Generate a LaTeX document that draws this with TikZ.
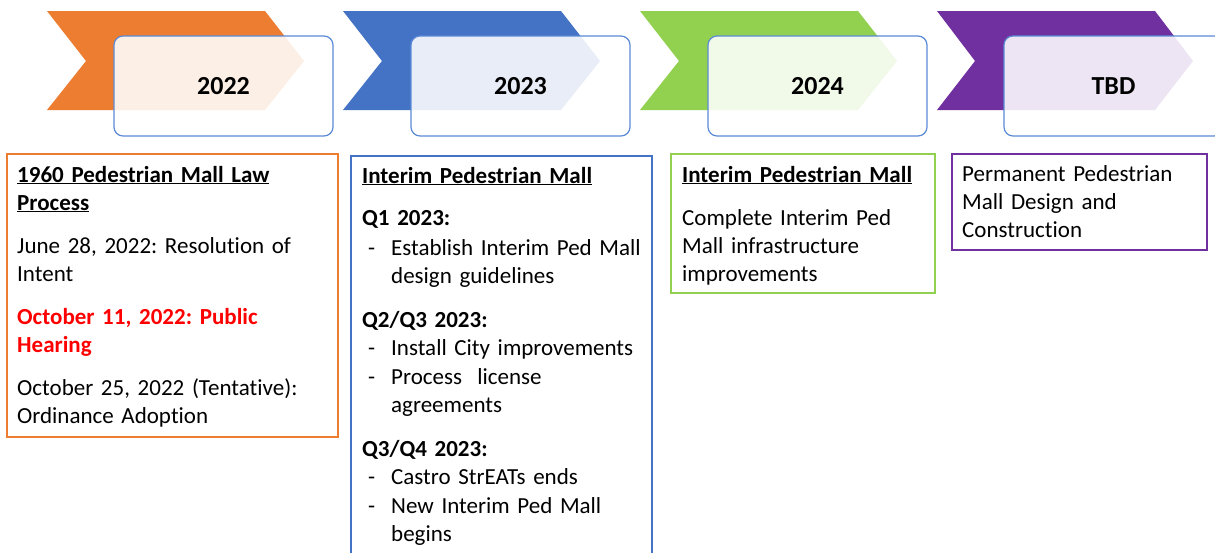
\documentclass[tikz,border=0pt]{standalone}
\usepackage{fontspec}
\setmainfont{Carlito}[Ligatures=NoCommon]
\frenchspacing

\definecolor{cOrange}{HTML}{ED7D31}
\definecolor{cBlue}{HTML}{4472C4}
\definecolor{cGreen}{HTML}{92D050}
\definecolor{cPurple}{HTML}{7030A0}
\definecolor{cFrame}{HTML}{5B8BD6}
\definecolor{cRed}{HTML}{FF0000}

% one "- item" line with hanging indent
\newcommand{\dashline}[1]{\hangindent=29pt\hangafter=1\noindent\makebox[29pt][l]{\hspace{6pt}-}#1\par}

\begin{document}
\begin{tikzpicture}[x=1pt, y=-1pt,
  yearbox/.style={draw=cFrame, line width=1.2pt, rounded corners=9pt,
    fill=white, fill opacity=0.88, text opacity=1,
    minimum width=219pt, minimum height=100pt,
    font=\fontsize{26}{30}\selectfont\bfseries},
  infobox/.style={draw=#1, line width=1.6pt},
  infotext/.style={anchor=base west, inner sep=0pt, align=left,
    font=\fontsize{23}{28}\selectfont}]
  \useasboundingbox (0,0) rectangle (1215,552);
  \clip (0,0) rectangle (1215,552);
  \fill[white] (0,0) rectangle (1215,552);

  % chevrons
  \fill[cOrange] (47,11) -- (265,11) -- (304,61) -- (265,110) -- (47,110) -- (86,61) -- cycle;
  \fill[cBlue] (343,11) -- (561,11) -- (600,61) -- (561,110) -- (343,110) -- (382,61) -- cycle;
  \fill[cGreen] (640,11) -- (858,11) -- (897,61) -- (858,110) -- (640,110) -- (679,61) -- cycle;
  \fill[cPurple] (937,11) -- (1155,11) -- (1193,61) -- (1155,110) -- (937,110) -- (975,61) -- cycle;

  % year labels
  \node[yearbox] (y2022) at (223.5,86) {2022};
  \node[yearbox] (y2023) at (520.5,86) {2023};
  \node[yearbox] (y2024) at (817.5,86) {2024};
  \node[yearbox] (ytbd) at (1113.5,86) {TBD};

  % boxes below
  \draw[infobox=cOrange] (7,154) rectangle (338,437);
  \draw[infobox=cBlue] (351,156) rectangle (652,570);
  \draw[infobox=cGreen] (671,154) rectangle (935,293);
  \draw[infobox=cPurple] (952,154) rectangle (1207,250);

  \node[infotext, text width=315pt] (law) at (17,182) {%
    \underline{\textbf{1960 Pedestrian Mall Law}}\newline\underline{\textbf{Process}}\par\vspace{15pt}
    June 28, 2022: Resolution of\newline Intent\par\vspace{15pt}
    {\color{cRed}\bfseries October 11, 2022: Public\newline Hearing}\par\vspace{15pt}
    October 25, 2022 (Tentative):\newline Ordinance Adoption\par};

  \node[infotext, text width=285pt] (interim1) at (362,183) {%
    \underline{\textbf{Interim Pedestrian Mall}}\par\vspace{14pt}
    \textbf{Q1 2023:}\par\vspace{2pt}
    \dashline{Establish Interim Ped Mall\newline design guidelines}\vspace{16pt}
    \textbf{Q2/Q3 2023:}\par
    \dashline{Install City improvements}\vspace{1pt}
    \dashline{Process\ \ license\newline agreements}\vspace{16pt}
    \textbf{Q3/Q4 2023:}\par
    \dashline{Castro StrEATs ends}\vspace{1pt}
    \dashline{New Interim Ped Mall\newline begins}};

  \node[infotext, text width=250pt] (interim2) at (682,182) {%
    \underline{\textbf{Interim Pedestrian Mall}}\par\vspace{15pt}
    Complete Interim Ped\newline Mall infrastructure\newline improvements\par};

  \node[infotext, text width=240pt] (perm) at (962,181) {%
    Permanent Pedestrian\newline Mall Design and\newline Construction\par};
\end{tikzpicture}
\end{document}
